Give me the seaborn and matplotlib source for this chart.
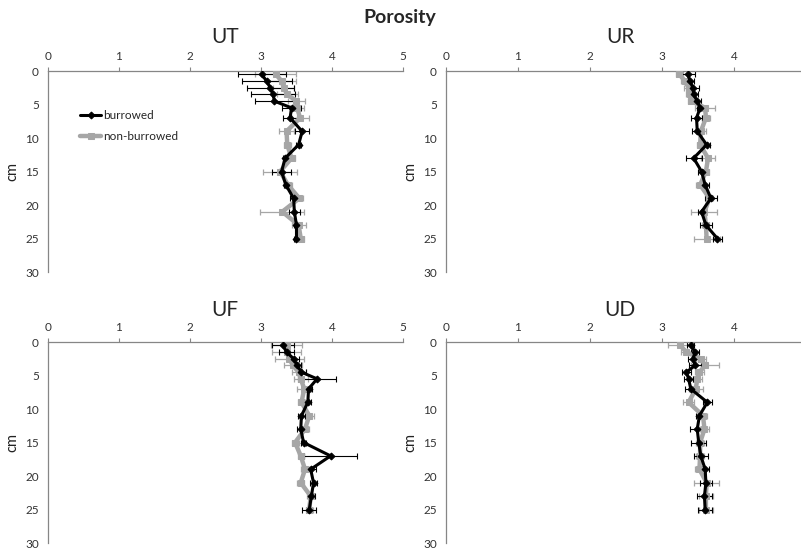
import seaborn as sns
from matplotlib import pyplot as plt

depth = [0.5, 1.5, 2.5, 3.5, 4.5, 5.5, 7, 9, 11, 13, 15, 17, 19, 21, 23, 25]

ut_bur = [3.01, 3.08, 3.13, 3.17, 3.19, 3.43, 3.41, 3.58, 3.53, 3.34, 3.29, 3.35, 3.46, 3.47, 3.50, 3.50]
ut_bur_err = [0.34, 0.35, 0.33, 0.31, 0.27, 0.14, 0.10, 0.10, 0.03, 0.03, 0.13, 0.03, 0.05, 0.08, 0.03, 0.03]
ut_non = [3.21, 3.29, 3.32, 3.37, 3.50, 3.51, 3.55, 3.36, 3.37, 3.43, 3.27, 3.38, 3.54, 3.30, 3.53, 3.56]
ut_non_err = [0.29, 0.20, 0.15, 0.15, 0.12, 0.10, 0.12, 0.10, 0.05, 0.05, 0.24, 0.05, 0.05, 0.31, 0.10, 0.05]

ur_bur = [3.36, 3.39, 3.43, 3.44, 3.49, 3.53, 3.48, 3.49, 3.62, 3.44, 3.55, 3.60, 3.68, 3.55, 3.61, 3.77]
ur_bur_err = [0.10, 0.05, 0.08, 0.06, 0.05, 0.05, 0.07, 0.07, 0.05, 0.11, 0.05, 0.06, 0.08, 0.05, 0.08, 0.06]
ur_non = [3.24, 3.32, 3.37, 3.39, 3.41, 3.60, 3.61, 3.54, 3.53, 3.64, 3.61, 3.53, 3.66, 3.59, 3.61, 3.62]
ur_non_err = [0.05, 0.05, 0.06, 0.06, 0.05, 0.14, 0.06, 0.07, 0.05, 0.10, 0.05, 0.06, 0.05, 0.18, 0.05, 0.18]

uf_bur = [3.31, 3.36, 3.46, 3.51, 3.57, 3.79, 3.67, 3.66, 3.57, 3.56, 3.60, 3.98, 3.70, 3.74, 3.71, 3.68]
uf_bur_err = [0.15, 0.10, 0.08, 0.06, 0.06, 0.27, 0.05, 0.05, 0.05, 0.05, 0.04, 0.37, 0.07, 0.05, 0.05, 0.10]
uf_non = [3.36, 3.36, 3.40, 3.45, 3.53, 3.56, 3.61, 3.57, 3.68, 3.62, 3.48, 3.56, 3.62, 3.56, 3.70, 3.68]
uf_non_err = [0.22, 0.20, 0.20, 0.13, 0.10, 0.10, 0.10, 0.05, 0.06, 0.05, 0.05, 0.04, 0.05, 0.05, 0.05, 0.05]

ud_bur = [3.40, 3.46, 3.43, 3.46, 3.34, 3.37, 3.40, 3.63, 3.52, 3.49, 3.51, 3.54, 3.60, 3.61, 3.59, 3.60]
ud_bur_err = [0.05, 0.06, 0.07, 0.08, 0.06, 0.06, 0.08, 0.06, 0.05, 0.10, 0.10, 0.10, 0.05, 0.08, 0.10, 0.10]
ud_non = [3.25, 3.34, 3.54, 3.60, 3.52, 3.49, 3.47, 3.37, 3.57, 3.59, 3.53, 3.53, 3.52, 3.62, 3.61, 3.61]
ud_non_err = [0.16, 0.08, 0.07, 0.19, 0.06, 0.06, 0.10, 0.08, 0.06, 0.06, 0.06, 0.06, 0.06, 0.17, 0.10, 0.10]

BLACK = "#000000"
GREY = "#a6a6a6"
AXIS = "#868686"

sns.set_style("white")
plt.rcParams["font.family"] = ["Lato", "DejaVu Sans"]

fig = plt.figure(figsize=(8.01, 5.48), dpi=100)


def panel(pos, bur, bur_err, non, non_err, xmax_tick=5, legend=False):
	ax = fig.add_axes(pos)
	ax.errorbar(non, depth, xerr=non_err, fmt="none", ecolor=GREY, elinewidth=0.9, capsize=2, capthick=0.9, zorder=1)
	ax.errorbar(bur, depth, xerr=bur_err, fmt="none", ecolor=BLACK, elinewidth=0.8, capsize=2, capthick=0.8, zorder=2)
	sns.lineplot(x=non, y=depth, orient="y", ax=ax, color=GREY, linewidth=3.2, marker="s",
		markersize=5, markeredgecolor=GREY, label="non-burrowed", zorder=3)
	sns.lineplot(x=bur, y=depth, orient="y", ax=ax, color=BLACK, linewidth=2.2, marker="D",
		markersize=3.5, markeredgecolor=BLACK, label="burrowed", zorder=4)
	ax.set_xlim(0, 5)
	ax.set_ylim(30, 0)
	ax.set_xticks(range(0, xmax_tick + 1))
	ax.set_yticks(range(0, 31, 5))
	ax.xaxis.tick_top()
	for side in ["right", "bottom"]:
		ax.spines[side].set_visible(False)
	for side in ["top", "left"]:
		ax.spines[side].set_color(AXIS)
		ax.spines[side].set_linewidth(0.9)
	ax.tick_params(axis="both", colors=AXIS, labelcolor="#333333", labelsize=8.5, length=3, width=0.8, direction="out")
	ax.set_ylabel("cm", fontsize=10.5, color="#222222", labelpad=4)
	ax.set_xlabel("")
	if legend:
		h, l = ax.get_legend_handles_labels()
		ax.legend(h[::-1], l[::-1], loc="upper left", bbox_to_anchor=(0.06, 0.86), frameon=False,
			fontsize=8.5, handlelength=1.8, handletextpad=0.2, labelspacing=0.9)
	else:
		ax.get_legend().remove()
	return ax


panel([0.0599, 0.5036, 0.4432, 0.3668], ut_bur, ut_bur_err, ut_non, ut_non_err, legend=True)
panel([0.5568, 0.5036, 0.4494, 0.3668], ur_bur, ur_bur_err, ur_non, ur_non_err, xmax_tick=4)
panel([0.0599, 0.0091, 0.4432, 0.3668], uf_bur, uf_bur_err, uf_non, uf_non_err)
panel([0.5568, 0.0091, 0.4494, 0.3668], ud_bur, ud_bur_err, ud_non, ud_non_err, xmax_tick=4)

fig.text(400 / 801, 1 - 18 / 548, "Porosity", ha="center", va="center", fontsize=14, fontweight="bold")
fig.text(225 / 801, 1 - 37 / 548, "UT", ha="center", va="center", fontsize=15)
fig.text(620 / 801, 1 - 37 / 548, "UR", ha="center", va="center", fontsize=15)
fig.text(225 / 801, 1 - 310 / 548, "UF", ha="center", va="center", fontsize=15)
fig.text(620 / 801, 1 - 310 / 548, "UD", ha="center", va="center", fontsize=15)

plt.savefig("out.png", dpi=100)
plt.close()
